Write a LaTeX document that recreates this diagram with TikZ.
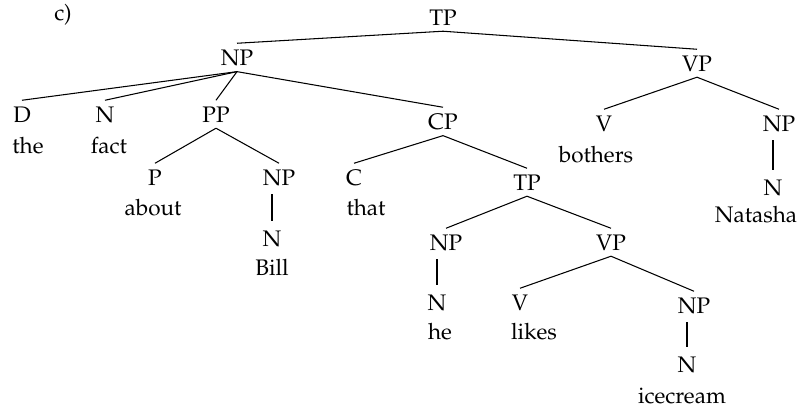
\documentclass[tikz,border=0pt]{standalone}
\usepackage[T1]{fontenc}
\usepackage{mathpazo}

\tikzset{
    cat/.style={anchor=base, inner sep=4pt},
    word/.style={anchor=base, inner sep=1pt},
    unary/.style={shorten <=2pt, shorten >=2pt}
}

\begin{document}
\begin{tikzpicture}[x=0.025cm, y=-0.025cm, line width=0.75pt,
        every node/.style={font=\fontsize{16}{19}\selectfont}]
        \useasboundingbox (0, 0) rectangle (800, 408);

        \node[word] (lbl) at (63, 20) {c)};

        % main clause
        \node[cat] (tp) at (443, 25) {TP};
        \node[cat] (np) at (237, 65) {NP};
        \node[cat] (vp) at (697, 71) {VP};

        % subject NP
        \node[cat] (d) at (22, 122) {D};
        \node[word] (the) at (28, 153) {the};
        \node[cat] (n) at (105, 122) {N};
        \node[word] (fact) at (109, 153) {fact};
        \node[cat] (pp) at (216, 122) {PP};
        \node[cat] (cp) at (443, 129) {CP};

        \node[cat] (p) at (155, 185) {P};
        \node[word] (about) at (153, 215) {about};
        \node[cat] (npb) at (279, 185) {NP};
        \node[cat] (nb) at (272, 246) {N};
        \node[word] (bill) at (272, 275) {Bill};

        \node[cat] (c) at (354, 185) {C};
        \node[word] (that) at (366, 215) {that};
        \node[cat] (tpi) at (527, 190) {TP};
        \node[cat] (nph) at (446, 250) {NP};
        \node[cat] (nh) at (437, 310) {N};
        \node[word] (he) at (440, 339) {he};
        \node[cat] (vpl) at (611, 250) {VP};
        \node[cat] (vl) at (520, 310) {V};
        \node[word] (likes) at (534, 339) {likes};
        \node[cat] (npi) at (694, 313) {NP};
        \node[cat] (ni) at (687, 372) {N};
        \node[word] (icecream) at (682, 403) {icecream};

        % main VP
        \node[cat] (vb) at (604, 131) {V};
        \node[word] (bothers) at (596, 162) {bothers};
        \node[cat] (npn) at (779, 131) {NP};
        \node[cat] (nn) at (773, 195) {N};
        \node[word] (natasha) at (756, 222) {Natasha};

        \draw (tp.south) -- (np.north);
        \draw (tp.south) -- (vp.north);
        \draw (np.south) -- (d.north);
        \draw (np.south) -- (n.north);
        \draw (np.south) -- (pp.north);
        \draw (np.south) -- (cp.north);
        \draw (pp.south) -- (p.north);
        \draw (pp.south) -- (npb.north);
        \draw [unary] (npb.south -| nb.north) -- (nb.north);
        \draw (cp.south) -- (c.north);
        \draw (cp.south) -- (tpi.north);
        \draw (tpi.south) -- (nph.north);
        \draw (tpi.south) -- (vpl.north);
        \draw [unary] (nph.south -| nh.north) -- (nh.north);
        \draw (vpl.south) -- (vl.north);
        \draw (vpl.south) -- (npi.north);
        \draw [unary] (npi.south -| ni.north) -- (ni.north);
        \draw (vp.south) -- (vb.north);
        \draw (vp.south) -- (npn.north);
        \draw [unary] (npn.south -| nn.north) -- (nn.north);
    \end{tikzpicture}
\end{document}
